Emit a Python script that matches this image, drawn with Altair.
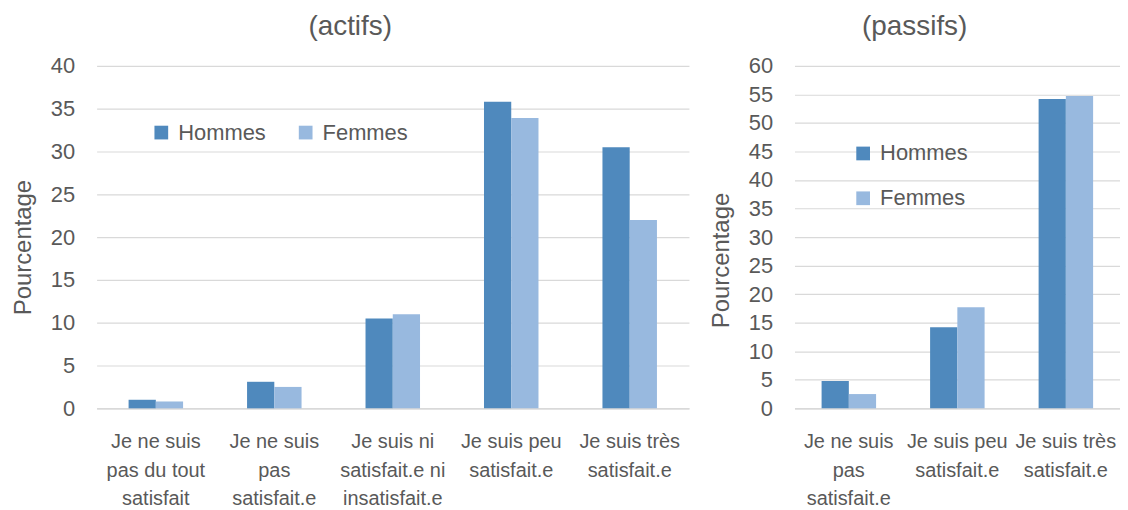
import altair as alt
import pandas as pd

series = ["Hommes", "Femmes"]
colors = ["#4F89BD", "#98B9DF"]

cats_actifs = [
    "Je ne suis\npas du tout\nsatisfait",
    "Je ne suis\npas\nsatisfait.e",
    "Je suis ni\nsatisfait.e ni\ninsatisfait.e",
    "Je suis peu\nsatisfait.e",
    "Je suis très\nsatisfait.e",
]
hommes_actifs = [1.0, 3.1, 10.5, 35.8, 30.5]
femmes_actifs = [0.8, 2.5, 11.0, 33.9, 22.0]

cats_passifs = [
    "Je ne suis\npas\nsatisfait.e",
    "Je suis peu\nsatisfait.e",
    "Je suis très\nsatisfait.e",
]
hommes_passifs = [4.8, 14.2, 54.2]
femmes_passifs = [2.5, 17.7, 54.7]

FONT = "Liberation Sans"
TXT = "#595959"
GRID = "#d9d9d9"


def make_df(cats, h, f):
    rows = []
    for c, a, b in zip(cats, h, f):
        rows.append({"cat": c, "series": "Hommes", "value": a})
        rows.append({"cat": c, "series": "Femmes", "value": b})
    return pd.DataFrame(rows)


def panel(title, cats, h, f, width, ymax, pin, legend, title_y):
    df = make_df(cats, h, f)
    return (
        alt.Chart(df)
        .mark_bar()
        .encode(
            x=alt.X(
                "cat:N",
                sort=cats,
                scale=alt.Scale(paddingInner=pin, paddingOuter=pin / 2),
                axis=alt.Axis(
                    title=None,
                    labelAngle=0,
                    labelExpr="split(datum.label, '\\n')",
                    labelFont=FONT,
                    labelFontSize=20,
                    labelColor=TXT,
                    labelLineHeight=29,
                    labelPadding=23,
                    labelLimit=300,
                    ticks=False,
                    domainColor=GRID,
                    domainWidth=1.5,
                ),
            ),
            xOffset=alt.XOffset("series:N", sort=series),
            y=alt.Y(
                "value:Q",
                scale=alt.Scale(domain=[0, ymax], nice=False),
                axis=alt.Axis(
                    values=list(range(0, ymax + 1, 5)),
                    title="Pourcentage",
                    titleFont=FONT,
                    titleFontSize=24,
                    titleFontWeight="normal",
                    titleColor=TXT,
                    titlePadding=15,
                    titleY=title_y,
                    labelFont=FONT,
                    labelFontSize=22,
                    labelColor=TXT,
                    labelPadding=22,
                    ticks=False,
                    domain=False,
                    gridColor=GRID,
                    gridWidth=1.2,
                ),
            ),
            color=alt.Color(
                "series:N",
                sort=series,
                scale=alt.Scale(domain=series, range=colors),
                legend=legend,
            ),
        )
        .properties(
            width=width,
            height=344,
            title=alt.Title(
                title,
                font=FONT,
                fontSize=28,
                fontWeight="normal",
                color=TXT,
                anchor="middle",
                frame="bounds",
                offset=14,
            ),
        )
    )


leg_left = alt.Legend(
    title=None,
    orient="none",
    legendX=54,
    legendY=56,
    direction="horizontal",
    labelFont=FONT,
    labelFontSize=22,
    labelColor=TXT,
    symbolType="square",
    symbolSize=190,
    symbolStrokeWidth=0,
    labelOffset=6,
    columnPadding=28,
    padding=0,
)
leg_right = alt.Legend(
    title=None,
    orient="none",
    legendX=58,
    legendY=77,
    direction="vertical",
    labelFont=FONT,
    labelFontSize=22,
    labelColor=TXT,
    symbolType="square",
    symbolSize=190,
    symbolStrokeWidth=0,
    labelOffset=6,
    rowPadding=23,
    padding=0,
)

left = panel("(actifs)", cats_actifs, hommes_actifs, femmes_actifs, 595, 40, 0.54, leg_left, 182)
right = panel("(passifs)", cats_passifs, hommes_passifs, femmes_passifs, 327, 60, 0.5, leg_right, 195)

chart = (
    alt.hconcat(left, right, spacing=20)
    .resolve_scale(color="independent", y="independent", x="independent")
    .resolve_legend(color="independent")
    .properties(padding={"left": 3, "top": 4, "right": 0, "bottom": 0}, background="white")
    .configure_view(stroke=None)
)

chart.save("out.html", embed_options={"renderer": "svg", "actions": False})
